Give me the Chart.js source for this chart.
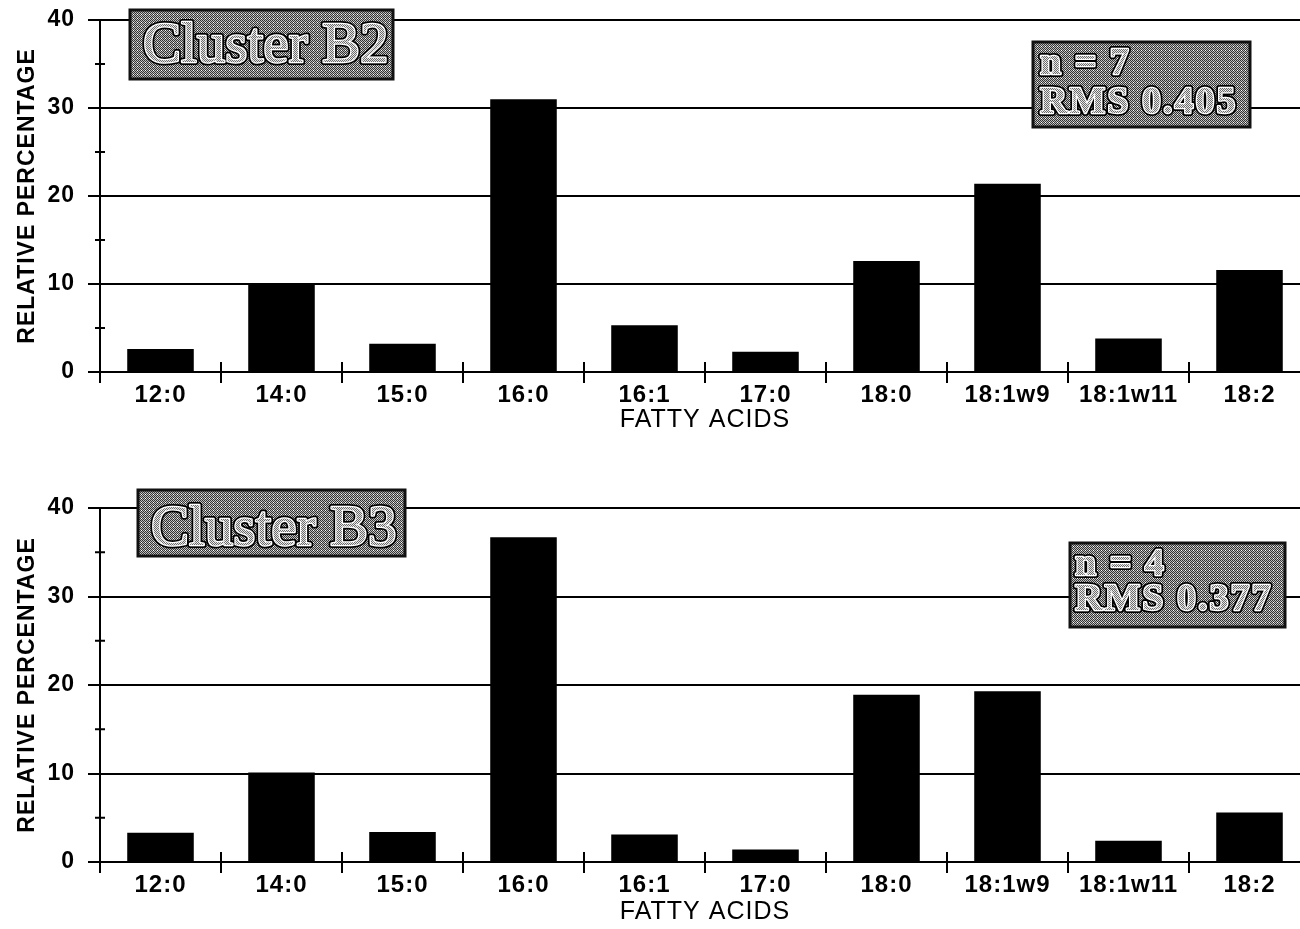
<!DOCTYPE html>
<html>
<head>
<meta charset="utf-8">
<script src="https://cdn.jsdelivr.net/npm/chart.js@4"></script>
<style>
  html, body { margin: 0; padding: 0; background: #fff; overflow: hidden; }
  #wrap { position: relative; width: 1300px; height: 929px; overflow: hidden; }
  canvas { position: absolute; left: 0; }
</style>
</head>
<body>
<div id="wrap">
  <canvas id="chartB2" width="1310" height="440" style="top:0"></canvas>
  <canvas id="chartB3" width="1310" height="441" style="top:488px"></canvas>
</div>
<script>
const fattyAcids = ['12:0', '14:0', '15:0', '16:0', '16:1', '17:0', '18:0', '18:1w9', '18:1w11', '18:2'];
const clusterB2 = [2.6, 10.1, 3.2, 31.0, 5.3, 2.3, 12.6, 21.4, 3.8, 11.6];
const clusterB3 = [3.3, 10.1, 3.4, 36.7, 3.1, 1.4, 18.9, 19.3, 2.4, 5.6];
const yMax = 40;
const yStep = 10;
const minorTicks = [5, 15, 25, 35];

const SANS = 'Liberation Sans';
const SERIF = 'Liberation Serif';

// little checkerboard tile for the grey "screen" fill of the labels
function stipple(dark, light) {
  const c = document.createElement('canvas');
  c.width = c.height = 4;
  const g = c.getContext('2d');
  g.fillStyle = light;
  g.fillRect(0, 0, 4, 4);
  g.fillStyle = dark;
  for (let j = 0; j < 4; j++) {
    for (let i = (j % 2); i < 4; i += 2) g.fillRect(i, j, 1, 1);
  }
  g.fillStyle = '#fff';
  g.fillRect(1, 2, 1, 1);
  return c;
}

function screenedBox(ctx, b, lines) {
  ctx.save();
  ctx.letterSpacing = '0px';
  ctx.fillStyle = ctx.createPattern(stipple('#333', '#bdbdbd'), 'repeat');
  ctx.fillRect(b.x, b.y, b.w, b.h);
  ctx.strokeStyle = '#111';
  ctx.lineWidth = 3;
  ctx.strokeRect(b.x, b.y, b.w, b.h);
  ctx.font = b.font;
  if (b.spacing) ctx.letterSpacing = b.spacing;
  ctx.textAlign = b.align || 'left';
  ctx.textBaseline = 'alphabetic';
  ctx.lineJoin = 'round';
  const fill = ctx.createPattern(stipple('#6a6a6a', '#e4e4e4'), 'repeat');
  lines.forEach(l => {
    ctx.strokeStyle = '#000';
    ctx.lineWidth = 6;
    ctx.strokeText(l.text, l.x, l.y);
    ctx.strokeStyle = '#fff';
    ctx.lineWidth = 2.5;
    ctx.strokeText(l.text, l.x, l.y);
    ctx.fillStyle = fill;
    ctx.fillText(l.text, l.x, l.y);
  });
  ctx.restore();
}

const decor = {
  id: 'decor',
  beforeDraw(chart) {
    chart.ctx.letterSpacing = '1px';
  },
  afterDraw(chart, args, opts) {
    const { ctx, scales: { x, y } } = chart;
    const y0 = y.getPixelForValue(0);
    const half = (x.getPixelForValue(1) - x.getPixelForValue(0)) / 2;
    ctx.save();
    ctx.strokeStyle = '#000';
    ctx.lineWidth = 2;
    // tick marks between the categories, crossing the base line
    for (let i = 0; i < fattyAcids.length; i++) {
      const bx = x.getPixelForValue(i) - half;
      ctx.beginPath();
      ctx.moveTo(bx, y0 - 10);
      ctx.lineTo(bx, y0 + 11);
      ctx.stroke();
    }
    // minor ticks on the value axis
    minorTicks.forEach(v => {
      const py = y.getPixelForValue(v);
      ctx.beginPath();
      ctx.moveTo(x.left - 5, py);
      ctx.lineTo(x.left + 5, py);
      ctx.stroke();
    });
    ctx.restore();

    screenedBox(ctx, opts.titleBox, [{ text: opts.title, x: opts.titleBox.tx, y: opts.titleBox.ty }]);
    const s = opts.statBox;
    screenedBox(ctx, s, [
      { text: opts.nText, x: s.tx, y: s.ty1 },
      { text: opts.rmsText, x: s.tx, y: s.ty2 }
    ]);
  }
};

function makeChart(id, values, cfg) {
  return new Chart(document.getElementById(id), {
    type: 'bar',
    data: {
      labels: fattyAcids,
      datasets: [{
        data: values,
        backgroundColor: '#000',
        borderWidth: 0,
        barPercentage: 0.55,
        categoryPercentage: 1
      }]
    },
    options: {
      responsive: false,
      animation: false,
      layout: { padding: { top: cfg.padTop, bottom: 0, left: 0, right: 0 } },
      plugins: {
        legend: { display: false },
        tooltip: { enabled: false },
        decor: cfg
      },
      scales: {
        x: {
          grid: { display: false, drawTicks: false },
          border: { display: true, color: '#000', width: 2 },
          ticks: {
            color: '#000',
            padding: 9,
            maxRotation: 0,
            autoSkip: false,
            font: { family: SANS, size: 24, weight: 'bold' }
          },
          title: {
            display: true,
            text: 'FATTY ACIDS',
            color: '#000',
            font: { family: SANS, size: 25 },
            padding: { top: 0, bottom: cfg.titlePad }
          },
          afterFit: s => { s.height = cfg.xHeight; }
        },
        y: {
          min: 0,
          max: yMax,
          ticks: {
            stepSize: yStep,
            color: '#000',
            padding: 13,
            font: { family: SANS, size: 23, weight: 'bold' }
          },
          grid: { color: '#000', lineWidth: 2, tickLength: 12 },
          border: { display: true, color: '#000', width: 2 },
          title: {
            display: true,
            text: 'RELATIVE PERCENTAGE',
            color: '#000',
            font: { family: SANS, size: 23, weight: 'bold' },
            padding: { top: 14, bottom: 0 }
          },
          afterFit: s => {
            s.width = 100;
            // the top label may overhang the plot edge
            s.paddingTop = 0;
          }
        }
      }
    },
    plugins: [decor]
  });
}

makeChart('chartB2', clusterB2, {
  padTop: 20,
  xHeight: 68,
  titlePad: 5,
  title: 'Cluster B2',
  nText: 'n = 7',
  rmsText: 'RMS 0.405',
  titleBox: { x: 130, y: 10, w: 263, h: 69, tx: 143, ty: 62, font: '57px ' + SERIF },
  statBox: { x: 1033, y: 42, w: 217, h: 85, tx: 1040, ty1: 74, ty2: 113, font: 'bold 38px ' + SERIF, spacing: '2px' }
});

makeChart('chartB3', clusterB3, {
  padTop: 20,
  xHeight: 67,
  titlePad: 2,
  title: 'Cluster B3',
  nText: 'n = 4',
  rmsText: 'RMS 0.377',
  titleBox: { x: 138, y: 2, w: 267, h: 66, tx: 151, ty: 57, font: '57px ' + SERIF },
  statBox: { x: 1070, y: 55, w: 215, h: 84, tx: 1075, ty1: 87, ty2: 122, font: 'bold 38px ' + SERIF, spacing: '2px' }
});
</script>
</body>
</html>
